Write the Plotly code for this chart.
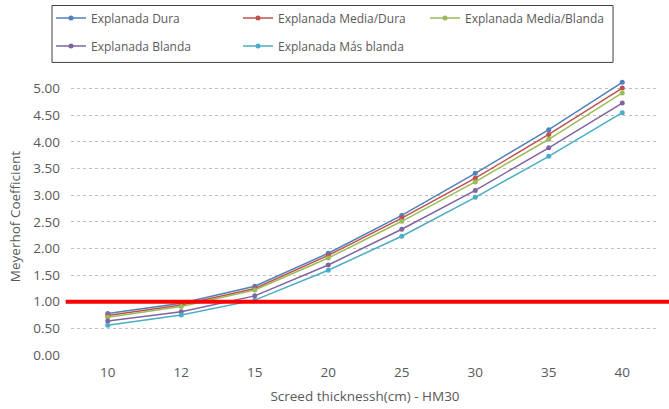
import plotly.graph_objects as go

thickness = ["10", "12", "15", "20", "25", "30", "35", "40"]
dura = [0.78, 0.97, 1.29, 1.91, 2.62, 3.41, 4.23, 5.12]
media_dura = [0.74, 0.94, 1.25, 1.87, 2.57, 3.32, 4.14, 5.01]
media_blanda = [0.71, 0.91, 1.22, 1.82, 2.51, 3.25, 4.05, 4.92]
blanda = [0.64, 0.81, 1.11, 1.69, 2.36, 3.09, 3.89, 4.73]
mas_blanda = [0.56, 0.75, 1.03, 1.59, 2.23, 2.96, 3.73, 4.55]
threshold = 1.0

series = [
    ("Explanada Dura", dura, "#4F81BD", "legend"),
    ("Explanada Media/Dura", media_dura, "#C0504D", "legend"),
    ("Explanada Media/Blanda", media_blanda, "#9BBB59", "legend"),
    ("Explanada Blanda", blanda, "#8064A2", "legend2"),
    ("Explanada Más blanda", mas_blanda, "#4BACC6", "legend2"),
]

FONT = "Open Sans"
GREY = "#595959"

fig = go.Figure()
for name, vals, col, leg in series:
    fig.add_trace(go.Scatter(
        x=thickness, y=vals, name=name, mode="lines+markers",
        line=dict(color=col, width=1.5),
        marker=dict(color=col, size=5),
        legend=leg,
    ))

fig.add_shape(type="line", xref="paper", yref="y",
              x0=-0.009, x1=1.02, y0=threshold, y1=threshold,
              line=dict(color="#FF0000", width=4))

# legend frame
fig.add_shape(type="rect", xref="paper", yref="paper",
              x0=-0.0323, x1=0.9218, y0=1.0562, y1=1.2617,
              line=dict(color="#404040", width=1), fillcolor="rgba(0,0,0,0)")

leg_common = dict(
    orientation="h", xanchor="left", yanchor="top",
    borderwidth=0, bgcolor="rgba(0,0,0,0)",
    entrywidth=142, itemwidth=30,
    font=dict(family=FONT, size=12, color=GREY),
)

fig.update_layout(
    width=669, height=409,
    margin=dict(l=71, r=10, t=78, b=54, autoexpand=False),
    paper_bgcolor="white", plot_bgcolor="white",
    font=dict(family=FONT, size=13.5, color=GREY),
    showlegend=True,
    legend=dict(x=-0.034, y=1.2686, **leg_common),
    legend2=dict(x=-0.034, y=1.168, **leg_common),
    xaxis=dict(
        type="category", range=[-0.5, 7.5], showgrid=False, showline=False, zeroline=False,
        ticks="", tickfont=dict(size=13.5, color=GREY), ticklabelstandoff=7,
        title=dict(text="Screed thicknessh(cm) - HM30", font=dict(size=13.5, color=GREY), standoff=12),
    ),
    yaxis=dict(
        range=[0, 5.2], dtick=0.5, tick0=0, tickformat=".2f",
        showgrid=True, gridcolor="#BFBFBF", griddash="dot", gridwidth=1,
        zeroline=False, showline=False, ticks="",
        tickfont=dict(size=13.5, color=GREY), ticklabelstandoff=10,
        title=dict(text="Meyerhof Coefficient", font=dict(size=13.5, color=GREY), standoff=9),
    ),
)

fig.write_html("out.html")
